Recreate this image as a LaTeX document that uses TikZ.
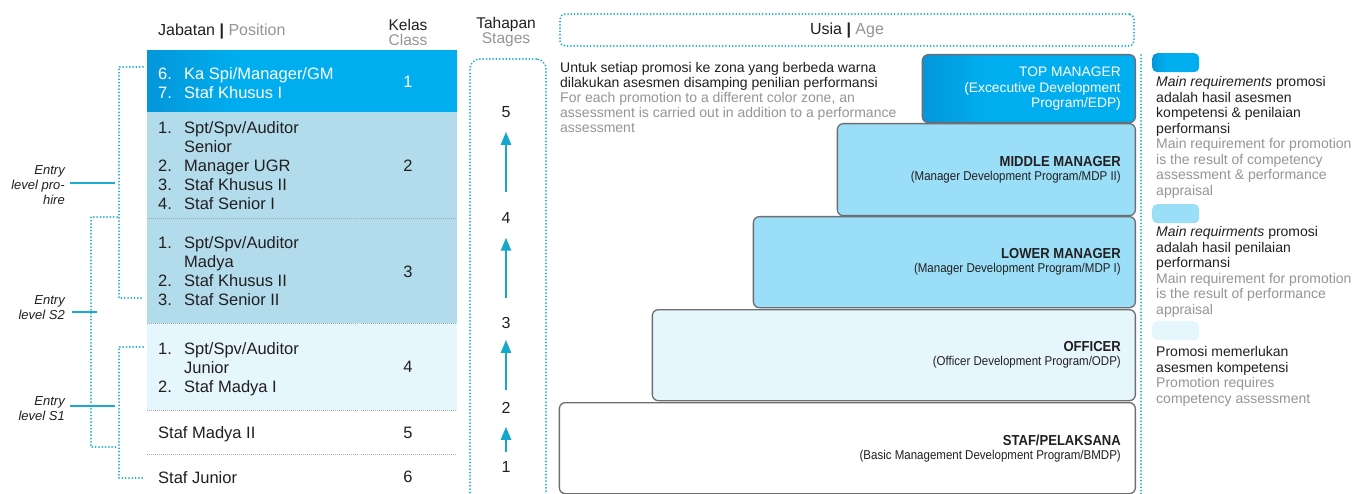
\documentclass[tikz,border=0pt]{standalone}
\usepackage{fontspec}
\setmainfont{Liberation Sans}
\newfontfamily\condfont[FakeStretch=0.9]{Liberation Sans}
\usetikzlibrary{arrows.meta}

\newcommand{\setfs}[2]{\fontsize{#1}{#2}\selectfont}

\definecolor{ink}{HTML}{231F20}
\definecolor{muted}{HTML}{939598}
\definecolor{deepblue}{HTML}{0A70B6}
\definecolor{brightblue}{HTML}{00AEEF}
\definecolor{rowblue}{HTML}{B2DCEB}
\definecolor{paleblue}{HTML}{E5F6FD}
\definecolor{skyblue}{HTML}{9ADEF7}
\definecolor{dotcyan}{HTML}{1BABD2}
\definecolor{arrowcyan}{HTML}{15A8CB}
\definecolor{edge}{HTML}{6D6E71}
\definecolor{sepgrey}{HTML}{A7A9AC}

\pgfdeclarehorizontalshading{bluegrad}{100bp}{color(0bp)=(deepblue); color(40bp)=(brightblue); color(100bp)=(brightblue)}

\tikzset{
  dotline/.style={draw=dotcyan, line width=2pt, line cap=round, dash pattern=on 0pt off 3.3pt},
  rowsep/.style={draw=sepgrey, line width=0.8pt, dash pattern=on 0.8pt off 1.2pt},
  entryline/.style={draw=dotcyan, line width=2.4pt},
  stair/.style={draw=edge, line width=1.3pt, rounded corners=6pt},
  stagearrow/.style={draw=arrowcyan, line width=2.4pt, -{Triangle[width=10pt,length=13pt]}},
  tabletext/.style={font={\setfs{16.5}{19}}, anchor=west, align=left},
  classnum/.style={font={\setfs{16.5}{19}}},
  headtext/.style={font={\setfs{15.5}{15}}, align=center},
  entrylabel/.style={font={\setfs{13}{15}\itshape}, align=right, anchor=east},
  notetext/.style={font={\setfs{14}{15}}, align=left, anchor=west},
  legendtext/.style={font={\setfs{14}{15.5}}, align=left, anchor=west},
  stagenum/.style={font={\setfs{16}{18}}},
  stairlabel/.style={font={\condfont\setfs{14.5}{14}}, align=right, anchor=east},
  swatch/.style={rounded corners=5pt, minimum width=47, minimum height=19, anchor=north west},
}

\begin{document}
\begin{tikzpicture}[x=1pt,y=-1pt, every node/.append style={inner sep=0pt, text=ink}]
\fill[white] (0,0) rectangle (1359,494);
\useasboundingbox (0,0) rectangle (1359,494);

% ---------- position table ----------
\path[shade, shading=bluegrad] (147,51) rectangle (457,112);
\fill[rowblue] (147,112) rectangle (457,323);
\fill[paleblue] (147,323) rectangle (457,410);
\foreach \yy in {218,323,410,454}{
  \draw[rowsep] (147,\yy) -- (359,\yy);
  \draw[rowsep] (361,\yy) -- (457,\yy);
}

\node[anchor=west, font={\setfs{16}{18}}] (poshead) at (158,31)
  {Jabatan \textbf{|} \textcolor{muted}{Position}};
\node[headtext] (classhead) at (408,32.5) {Kelas\\\textcolor{muted}{Class}};

\node[tabletext, text=white] (row1) at (158,85)
  {\begin{tabular}{@{}p{26pt}@{}l@{}}6.&Ka Spi/Manager/GM\\7.&Staf Khusus I\end{tabular}};
\node[tabletext] (row2) at (158,168)
  {\begin{tabular}{@{}p{26pt}@{}l@{}}1.&Spt/Spv/Auditor\\&Senior\\2.&Manager UGR\\3.&Staf Khusus II\\4.&Staf Senior I\end{tabular}};
\node[tabletext] (row3) at (158,273.5)
  {\begin{tabular}{@{}p{26pt}@{}l@{}}1.&Spt/Spv/Auditor\\&Madya\\2.&Staf Khusus II\\3.&Staf Senior II\end{tabular}};
\node[tabletext] (row4) at (158,370)
  {\begin{tabular}{@{}p{26pt}@{}l@{}}1.&Spt/Spv/Auditor\\&Junior\\2.&Staf Madya I\end{tabular}};
\node[tabletext] (row5) at (158,434.5) {Staf Madya II};
\node[tabletext] (row6) at (158,478) {Staf Junior};

\node[classnum, text=white] (cls1) at (408,82) {1};
\node[classnum] (cls2) at (408,166) {2};
\node[classnum] (cls3) at (408,272) {3};
\node[classnum] (cls4) at (408,367) {4};
\node[classnum] (cls5) at (408,433) {5};
\node[classnum] (cls6) at (408,477) {6};

% ---------- entry levels ----------
\coordinate (brAtop) at (143,67);  \coordinate (brAbot) at (143,298);
\coordinate (brBtop) at (117,217); \coordinate (brBbot) at (117,447);
\coordinate (brCtop) at (143,347); \coordinate (brCbot) at (143,478);
\draw[dotline] (brAtop) -- ++(-24,0) |- (brAbot);
\draw[dotline] (brBtop) -- ++(-26,0) |- (brBbot);
\draw[dotline] (brCtop) -- ++(-24,0) |- (brCbot);

\node[entrylabel] (lblpro) at (65,185) {Entry\\level pro-\\hire};
\node[entrylabel] (lbls2) at (65,307.5) {Entry\\level S2};
\node[entrylabel] (lbls1) at (65,408.5) {Entry\\level S1};
\draw[entryline] ([shift={(5,-2)}]lblpro.east) -- ++(45,0);
\draw[entryline] ([shift={(7,4.5)}]lbls2.east) -- ++(25,0);
\draw[entryline] ([shift={(5,-2.5)}]lbls1.east) -- ++(45,0);

% ---------- stages ----------
\node[headtext] (stagehead) at (506,32) {Tahapan\\\textcolor{muted}{Stages}};
\node[dotline, rounded corners=10pt, minimum width=76, minimum height=447, anchor=north west] (stagebox) at (469,58) {};
\node[stagenum] (s5) at (506,112) {5};
\node[stagenum] (s4) at (506,218) {4};
\node[stagenum] (s3) at (506,323) {3};
\node[stagenum] (s2) at (506,408) {2};
\node[stagenum] (s1) at (506,467) {1};
\draw[stagearrow, shorten <=9pt, shorten >=13pt] (s1) -- (s2);
\draw[stagearrow, shorten <=12pt, shorten >=11pt] (s2) -- (s3);
\draw[stagearrow, shorten <=19pt, shorten >=14pt] (s3) -- (s4);
\draw[stagearrow, shorten <=20pt, shorten >=14pt] (s4) -- (s5);

% ---------- age band ----------
\node[dotline, rounded corners=5pt, minimum width=574, minimum height=32, font={\setfs{16}{18}}] (usia) at (847,30)
  {Usia \textbf{|} \textcolor{muted}{Age}};
\coordinate (railtop) at (1141,55);
\coordinate (railbot) at (1141,494);
\draw[dotline] (railtop) -- (railbot);

\node[notetext] (note) at (560,97)
  {Untuk setiap promosi ke zona yang berbeda warna\\
   dilakukan asesmen disamping penilian performansi\\
   \textcolor{muted}{For each promotion to a different color zone, an}\\
   \textcolor{muted}{assessment is carried out in addition to a performance}\\
   \textcolor{muted}{assessment}};

% ---------- career staircase ----------
\node[stair, fill=white, minimum width=576, minimum height=91, anchor=north east] (stafbox) at (1136,402) {};
\node[stair, fill=paleblue, minimum width=483, minimum height=91, anchor=north east] (offbox) at (1136,309) {};
\node[stair, fill=skyblue, minimum width=382, minimum height=91, anchor=north east] (lowbox) at (1136,216) {};
\node[stair, fill=skyblue, minimum width=298, minimum height=92, anchor=north east] (midbox) at (1136,123) {};
\node[stair, shade, shading=bluegrad, minimum width=213, minimum height=68, anchor=north east] (topbox) at (1136,54) {};

\node[stairlabel, text=white, font={\setfs{13.8}{15.8}}] (toptxt) at ([xshift=-15pt]topbox.east)
  {TOP MANAGER\\(Excecutive Development\\Program/EDP)};
\node[stairlabel] (midtxt) at ([xshift=-15pt]midbox.east)
  {\textbf{MIDDLE MANAGER}\\{\setfs{12.8}{14}(Manager Development Program/MDP II)}};
\node[stairlabel] (lowtxt) at ([xshift=-15pt]lowbox.east)
  {\textbf{LOWER MANAGER}\\{\setfs{12.8}{14}(Manager Development Program/MDP I)}};
\node[stairlabel] (offtxt) at ([xshift=-15pt]offbox.east)
  {\textbf{OFFICER}\\{\setfs{12.8}{14}(Officer Development Program/ODP)}};
\node[stairlabel] (staftxt) at ([xshift=-15pt]stafbox.east)
  {\textbf{STAF/PELAKSANA}\\{\setfs{12.8}{14}(Basic Management Development Program/BMDP)}};

% ---------- legend ----------
\node[swatch, shade, shading=bluegrad] (sw1) at (1152,53) {};
\node[swatch, fill=skyblue] (sw2) at (1152,204) {};
\node[swatch, fill=paleblue] (sw3) at (1152,321) {};

\node[legendtext] (leg1) at (1156,137.5)
  {\textit{Main requirements} promosi\\
   adalah hasil asesmen\\
   kompetensi \& penilaian\\
   performansi\\
   \textcolor{muted}{Main requirement for promotion}\\
   \textcolor{muted}{is the result of competency}\\
   \textcolor{muted}{assessment \& performance}\\
   \textcolor{muted}{appraisal}};
\node[legendtext] (leg2) at (1156,272)
  {\textit{Main requirments} promosi\\
   adalah hasil penilaian\\
   performansi\\
   \textcolor{muted}{Main requirement for promotion}\\
   \textcolor{muted}{is the result of performance}\\
   \textcolor{muted}{appraisal}};
\node[legendtext] (leg3) at (1156,376.5)
  {Promosi memerlukan\\
   asesmen kompetensi\\
   \textcolor{muted}{Promotion requires}\\
   \textcolor{muted}{competency assessment}};
\end{tikzpicture}
\end{document}
